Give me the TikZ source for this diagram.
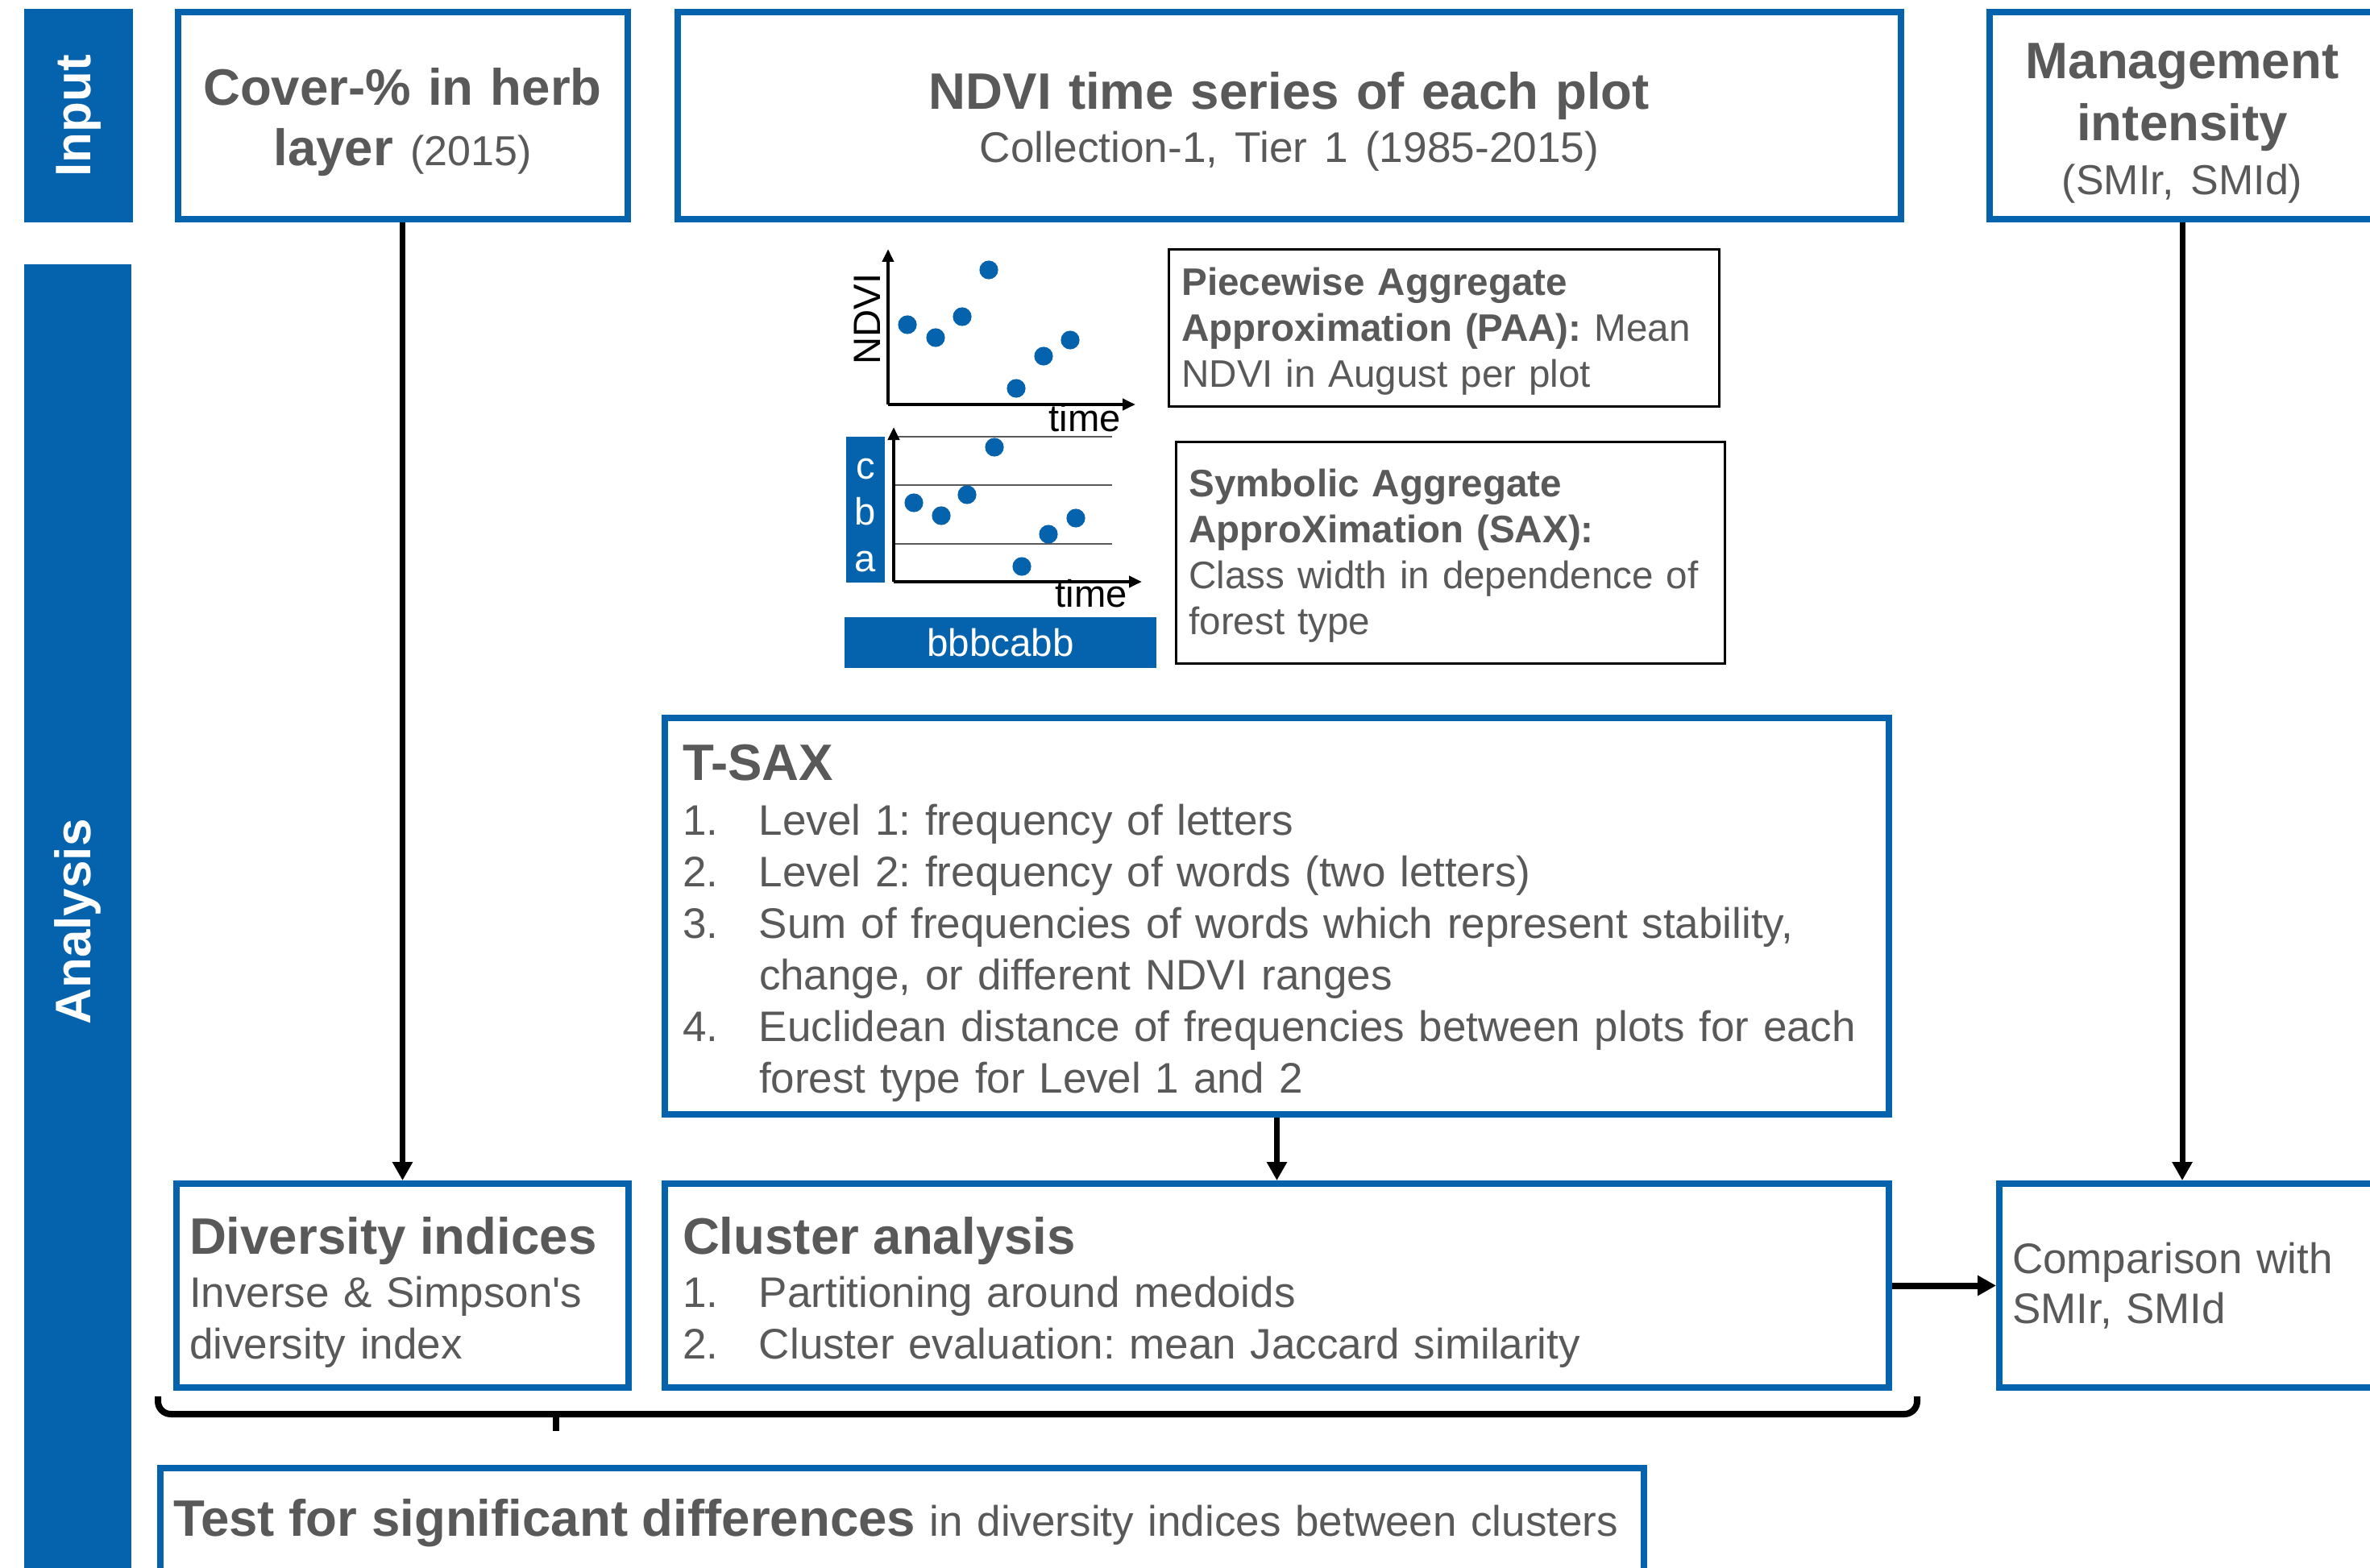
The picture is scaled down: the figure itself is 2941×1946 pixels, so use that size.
\documentclass[tikz,border=0pt]{standalone}
\usepackage{fontspec}
\setmainfont{Liberation Sans}
\usetikzlibrary{positioning,arrows.meta}
\definecolor{uniblue}{RGB}{5,99,174}
\definecolor{textgray}{RGB}{89,89,89}
\newcommand{\fsz}[2]{\fontsize{#1}{#2}\selectfont}
\newcommand{\listno}[1]{\makebox[23.75pt][l]{#1}}
\newcommand{\listgap}{\hspace*{23.75pt}}
\frenchspacing

\begin{document}
\begin{tikzpicture}[x=0.25pt, y=-0.25pt, stage/.style={fill=uniblue, text=white, font=\fsz{15.5}{18}\bfseries, rotate=90, inner sep=0pt}, box/.style={draw=uniblue, line width=2pt, fill=white, text=textgray, inner xsep=4pt, inner ysep=0pt}, titled/.style={execute at begin node={\rule{0pt}{15.5pt}}}, topbox/.style={box, titled, align=center, minimum height=64.25pt, font=\fsz{15.9}{18.75}\bfseries}, lowbox/.style={box, titled, align=left, minimum height=63.25pt, font=\fsz{13.25}{16}}, note/.style={draw=black, line width=0.65pt, text=textgray, align=left, inner xsep=4pt, inner ysep=0pt, font=\fsz{11.9}{14.25}, execute at begin node={\rule{0pt}{10.5pt}}}, axis/.style={line width=1pt, -{Triangle[length=4pt,width=3.5pt]}}, axlabel/.style={font=\fsz{11.8}{14}, inner sep=0pt, anchor=base}, classbar/.style={fill=uniblue, text=white, inner sep=0pt}, flow/.style={line width=1.75pt, -{Triangle[length=5.75pt,width=6pt]}}, bracket/.style={line width=2pt, rounded corners=4pt}]
\useasboundingbox (0,0) rectangle (2941,1946);
\node[stage, minimum width=66.25pt, minimum height=33.75pt] (input) at (97.5,143.5) {Input};
\node[stage, minimum width=408pt, minimum height=33.25pt] (analysis) at (96.5,1144) {Analysis};
\node[topbox, minimum width=139.5pt, text width=131.5pt] (cover) at (499.5,143.5) {Cover-\% in herb\\layer {\fsz{13}{15}\mdseries (2015)}};
\node[topbox, minimum width=379.5pt, text width=371.5pt, font=\fsz{15.9}{16.5}\bfseries] (ndvi) at (1600,143.5) {NDVI time series of each plot\\{\fsz{13.3}{16}\mdseries Collection-1, Tier 1 (1985-2015)}};
\node[topbox, minimum width=119.5pt, text width=111.5pt, font=\fsz{15.9}{16.75}\bfseries] (mgmt) at (2708,143.5) {Management\\[2.5pt]intensity\\{\fsz{13}{15}\mdseries (SMIr, SMId)}};
\node[note, minimum width=170.85pt, minimum height=48.85pt, text width=162.85pt] (paa) at (1792,407) {{\bfseries Piecewise Aggregate}\\\mbox{\bfseries Approximation (PAA):\mdseries{} Mean}\\NDVI in August per plot};
\node[note, minimum width=170.35pt, minimum height=68.85pt, text width=162.35pt, font=\fsz{11.9}{14.3}] (sax) at (1800,686) {{\bfseries Symbolic Aggregate\\ApproXimation (SAX):}\\Class width in dependence of\\forest type};
\draw[axis] (1102,502) -- (1102,309);
\draw[axis] (1102,502) -- (1409,502);
\foreach \x/\y in {1126/403,1161/419,1194/393,1227/335,1261/482,1295/442,1328/422}
  \fill[uniblue] (\x,\y) circle (2.9pt);
\node[axlabel, rotate=90] (ndvilab) at (1092,396) {NDVI};
\node[axlabel] (time1) at (1346,535) {time};
\node[classbar, minimum width=12pt, minimum height=45.25pt] (classes) at (1074,632.5) {};
\node[axlabel, text=white] (lc) at (1074,594) {c};
\node[axlabel, text=white] (lb) at (1074,651) {b};
\node[axlabel, text=white] (la) at (1074,709) {a};
\foreach \y in {542,602,675}
  \draw[black!65, line width=0.5pt] (1109,\y) -- (1380,\y);
\draw[axis] (1109,722) -- (1109,530);
\draw[axis] (1109,722) -- (1417,722);
\foreach \x/\y in {1134/624,1168/640,1200/614,1234/555,1268/703,1301/663,1335/643}
  \fill[uniblue] (\x,\y) circle (2.9pt);
\node[axlabel] (time2) at (1354,753) {time};
\node[classbar, minimum width=96.75pt, minimum height=15.75pt, font=\fsz{11.9}{14}] (word) at (1241.5,797.5) {bbbcabb};
\node[lowbox, minimum width=379.75pt, minimum height=123pt, text width=368.75pt, inner xsep=5.5pt] (tsax) at (1584.5,1137) {{\fsz{15.9}{16}\bfseries T-SAX}\\[1pt]
\listno{1.}Level 1: frequency of letters\\
\listno{2.}Level 2: frequency of words (two letters)\\
\listno{3.}Sum of frequencies of words which represent stability,\\
\listgap change, or different NDVI ranges\\
\listno{4.}\mbox{Euclidean distance of frequencies between plots for each}\\
\listgap forest type for Level 1 and 2};
\node[lowbox, minimum width=140.25pt, text width=132.25pt] (div) at (499.5,1595.5) {{\fsz{15.9}{16}\bfseries Diversity indices}\\[0.5pt]Inverse \& Simpson\textquotesingle s\\diversity index};
\node[lowbox, minimum width=379.75pt, text width=368.75pt, inner xsep=5.5pt] (cluster) at (1584.5,1595.5) {{\fsz{15.9}{16}\bfseries Cluster analysis}\\[0.5pt]\listno{1.}Partitioning around medoids\\\listno{2.}Cluster evaluation: mean Jaccard similarity};
\node[box, align=left, minimum width=118pt, minimum height=63.25pt, text width=110pt, font=\fsz{13.25}{15.5}] (comp) at (2717,1595.5) {Comparison with\\SMIr, SMId};
\node[box, align=left, minimum width=460.25pt, minimum height=34pt, text width=452.25pt, font=\fsz{13.25}{16}] (test) at (1119.5,1890) {{\fsz{15.9}{16}\bfseries Test for significant differences} in diversity indices between clusters};
\draw[flow] (cover) -- (div);
\draw[flow] (tsax) -- (cluster);
\draw[flow] (mgmt.south) -- (mgmt.south |- comp.north);
\draw[flow, line width=2pt] (cluster) -- (comp);
\draw[bracket] (196,1733) -- (196,1755) -- (2379,1755) -- (2379,1733);
\draw[line width=2pt] (690,1755) -- (690,1776);
\end{tikzpicture}
\end{document}
